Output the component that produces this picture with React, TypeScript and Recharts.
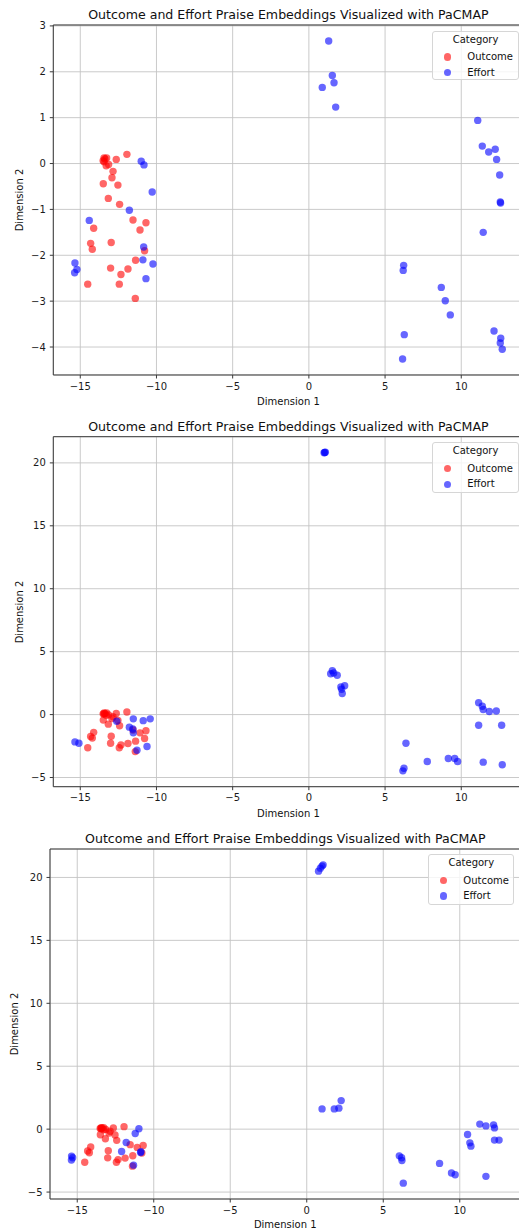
import React from 'react';
import { ScatterChart, Scatter, XAxis, YAxis, CartesianGrid, ReferenceLine } from 'recharts';

const FONT = '"DejaVu Sans", Verdana, sans-serif';

const chartTitle = 'Outcome and Effort Praise Embeddings Visualized with PaCMAP';
const xAxisLabel = 'Dimension 1';
const yAxisLabel = 'Dimension 2';
const legendTitle = 'Category';
const categories = ['Outcome', 'Effort'];
const categoryColors = ['#ff0000', '#0000ff'];

const xTicks = [-15, -10, -5, 0, 5, 10];
const yTicksSmall = [-4, -3, -2, -1, 0, 1, 2, 3];
const yTicksLarge = [-5, 0, 5, 10, 15, 20];

// Outcome praise (same in all three runs)
const outcomeX = [-13.44, -13.27, -13.5, -13.44, -13.3, -13.14, -13.38, -12.64, -11.94, -12.85, -12.92, -13.49, -12.53, -13.16, -12.42, -11.54, -10.69, -11.08, -14.12, -14.32, -14.21, -12.97, -10.78, -11.37, -13.01, -11.87, -12.33, -14.51, -12.44, -11.39];
const outcomeY = [0.12, 0.12, 0.06, 0.04, -0.05, -0.02, 0.1, 0.09, 0.2, -0.17, -0.31, -0.44, -0.47, -0.76, -0.89, -1.23, -1.29, -1.45, -1.41, -1.74, -1.87, -1.72, -1.9, -2.11, -2.28, -2.3, -2.42, -2.63, -2.63, -2.94];

// Effort praise, run 1
const effort1X = [-11.0, -10.82, -10.28, -11.78, -14.41, -10.84, -10.89, -10.23, -10.69, -15.35, -15.22, -15.37, 1.3, 1.54, 1.65, 0.88, 1.76, 11.08, 11.38, 11.8, 12.23, 12.32, 12.52, 12.56, 12.58, 11.44, 6.22, 6.19, 8.69, 8.95, 9.28, 12.15, 12.59, 12.56, 12.69, 6.26, 6.15];
const effort1Y = [0.05, -0.03, -0.62, -1.02, -1.24, -1.82, -2.1, -2.19, -2.51, -2.17, -2.31, -2.38, 2.67, 1.92, 1.76, 1.66, 1.23, 0.94, 0.38, 0.25, 0.31, 0.09, -0.25, -0.84, -0.86, -1.5, -2.22, -2.33, -2.7, -2.99, -3.3, -3.65, -3.81, -3.91, -4.05, -3.73, -4.26];

// Effort praise, run 2
const effort2X = [-15.35, -15.09, -12.61, -11.52, -10.87, -10.41, -11.78, -11.55, -11.52, -11.28, -10.62, 1.0, 1.04, 1.08, 1.54, 1.43, 1.63, 1.86, 2.35, 2.15, 2.19, 2.1, 11.14, 11.38, 11.44, 11.84, 12.3, 11.14, 12.65, 6.37, 7.77, 9.15, 9.57, 9.76, 11.44, 12.69, 6.24, 6.17];
const effort2Y = [-2.17, -2.28, -0.53, -0.34, -0.48, -0.34, -1.0, -1.15, -1.45, -2.83, -2.54, 20.8, 20.82, 20.84, 3.49, 3.25, 3.31, 3.12, 2.3, 2.01, 1.67, 2.2, 0.95, 0.66, 0.4, 0.24, 0.29, -0.85, -0.85, -2.28, -3.73, -3.49, -3.49, -3.73, -3.78, -3.99, -4.26, -4.47];

// Effort praise, run 3
const effort3X = [-15.37, -15.3, -15.38, -11.21, -10.97, -11.8, -12.1, -10.86, -10.84, -11.32, 0.77, 0.89, 1.0, 1.07, 1.0, 1.8, 2.1, 2.25, 11.31, 11.71, 12.21, 12.27, 10.51, 10.66, 10.73, 12.27, 12.57, 6.05, 6.2, 6.22, 8.68, 9.46, 9.7, 11.71, 6.31];
const effort3Y = [-2.14, -2.27, -2.46, -0.34, 0.03, -1.06, -1.77, -1.85, -1.8, -2.86, 20.5, 20.74, 20.9, 21.0, 1.61, 1.61, 1.67, 2.27, 0.4, 0.26, 0.34, 0.1, -0.42, -1.09, -1.35, -0.87, -0.87, -2.12, -2.27, -2.49, -2.72, -3.49, -3.62, -3.75, -4.29];

const zip = (xs: number[], ys: number[]) => xs.map((x, i) => ({ x, y: ys[i] }));
const outcomeData = zip(outcomeX, outcomeY);

const fmt = (v: number) => String(v).replace('-', '\u2212');

const makeDot = (color: string) => (props: any) => {
  if (props.cx == null || props.cy == null) return <g />;
  return <circle cx={props.cx} cy={props.cy} r={3.7} fill={color} fillOpacity={0.6} stroke="none" />;
};

type PanelProps = {
  top: number;
  height: number;
  plotLeft: number;
  plotTop: number;
  plotBottom: number;
  plotRight: number;
  xDomain: [number, number];
  yDomain: [number, number];
  yTicks: number[];
  effort: { x: number; y: number }[];
  titleY: number;
  xLabelY: number;
  yLabelX: number;
  legend: { left: number; top: number; width: number; height: number };
};

const tickStyle = { fontSize: 10, fill: '#1a1a1a', fontFamily: FONT };
const SPINE = '#3a3a3a';

function Panel(p: PanelProps) {
  const chartWidth = p.plotRight + 10;
  const xAxisHeight = 30;
  const plotCenterX = (p.plotLeft + p.plotRight) / 2;
  const plotCenterY = (p.plotTop + p.plotBottom) / 2;
  const seriesData = [outcomeData, p.effort];
  return (
    <div style={{ position: 'absolute', left: 0, top: p.top, width: 519, height: p.height, overflow: 'hidden' }}>
      <ScatterChart
        width={chartWidth}
        height={p.height}
        margin={{ top: p.plotTop, right: 10, left: 0, bottom: p.height - p.plotBottom - xAxisHeight }}
      >
        <CartesianGrid stroke="#c4c4c4" strokeWidth={0.9} />
        <XAxis
          type="number"
          dataKey="x"
          domain={p.xDomain}
          ticks={xTicks}
          allowDataOverflow
          height={xAxisHeight}
          tickFormatter={fmt}
          tick={tickStyle}
          tickSize={3.5}
          tickMargin={4}
          stroke={SPINE}
          axisLine={{ stroke: SPINE, strokeWidth: 1 }}
          tickLine={{ stroke: SPINE }}
        />
        <YAxis
          type="number"
          dataKey="y"
          domain={p.yDomain}
          ticks={p.yTicks}
          allowDataOverflow
          width={p.plotLeft}
          tickFormatter={fmt}
          tick={tickStyle}
          tickSize={3.5}
          tickMargin={4}
          stroke={SPINE}
          axisLine={{ stroke: SPINE, strokeWidth: 1 }}
          tickLine={{ stroke: SPINE }}
        />
        <ReferenceLine y={p.yDomain[1]} stroke={SPINE} strokeWidth={1} />
        <ReferenceLine x={p.xDomain[1]} stroke={SPINE} strokeWidth={1} />
        {categories.map((c, i) => (
          <Scatter
            key={c}
            name={c}
            data={seriesData[i]}
            fill={categoryColors[i]}
            shape={makeDot(categoryColors[i])}
            isAnimationActive={false}
          />
        ))}
      </ScatterChart>
      <div
        style={{
          position: 'absolute', left: p.plotLeft - 40, width: p.plotRight - p.plotLeft + 80, top: p.titleY - 7.5,
          textAlign: 'center', fontFamily: FONT, fontSize: 12.6, lineHeight: '15px', color: '#111', whiteSpace: 'nowrap',
        }}
      >
        {chartTitle}
      </div>
      <div
        style={{
          position: 'absolute', left: plotCenterX - 60, width: 120, top: p.xLabelY - 6,
          textAlign: 'center', fontFamily: FONT, fontSize: 10, lineHeight: '12px', color: '#111',
        }}
      >
        {xAxisLabel}
      </div>
      <div
        style={{
          position: 'absolute', left: p.yLabelX, top: plotCenterY, transform: 'translate(-50%, -50%) rotate(-90deg)',
          fontFamily: FONT, fontSize: 10, lineHeight: '12px', color: '#111', whiteSpace: 'nowrap',
        }}
      >
        {yAxisLabel}
      </div>
      <div
        style={{
          position: 'absolute', left: p.legend.left, top: p.legend.top, width: p.legend.width, height: p.legend.height,
          background: 'rgba(255,255,255,0.8)', border: '1px solid #d6d6d6', borderRadius: 3, boxSizing: 'border-box',
          fontFamily: FONT, fontSize: 10, color: '#111',
        }}
      >
        <div style={{ position: 'absolute', left: 0, right: 0, top: 2, textAlign: 'center', lineHeight: '12px' }}>{legendTitle}</div>
        {categories.map((c, i) => (
          <React.Fragment key={c}>
            <div
              style={{
                position: 'absolute', left: 14.4 - 3.7, top: 25.5 + i * 15.5 - 3.7, width: 7.4, height: 7.4,
                borderRadius: '50%', background: categoryColors[i], opacity: 0.6,
              }}
            />
            <div style={{ position: 'absolute', left: 34, top: 25.5 + i * 15.5 - 6, lineHeight: '12px', whiteSpace: 'nowrap' }}>{c}</div>
          </React.Fragment>
        ))}
      </div>
    </div>
  );
}

export default function App() {
  return (
    <div style={{ position: 'absolute', left: 0, top: 0, width: 519, height: 1230, overflow: 'hidden', background: '#fff' }}>
      <Panel
        top={0}
        height={410}
        plotLeft={53.3}
        plotTop={25}
        plotBottom={375}
        plotRight={523.6}
        xDomain={[-16.77, 14.09]}
        yDomain={[-4.61, 3.02]}
        yTicks={yTicksSmall}
        effort={zip(effort1X, effort1Y)}
        titleY={14.7}
        xLabelY={402.3}
        yLabelX={20}
        legend={{ left: 432.3, top: 30.7, width: 86.5, height: 49.5 }}
      />
      <Panel
        top={410}
        height={410}
        plotLeft={53.3}
        plotTop={26.7}
        plotBottom={376.7}
        plotRight={523.6}
        xDomain={[-16.77, 14.09]}
        yDomain={[-5.73, 22.08]}
        yTicks={yTicksLarge}
        effort={zip(effort2X, effort2Y)}
        titleY={16.3}
        xLabelY={404}
        yLabelX={20}
        legend={{ left: 432.3, top: 32.3, width: 86.5, height: 50.4 }}
      />
      <Panel
        top={820}
        height={410}
        plotLeft={50}
        plotTop={29}
        plotBottom={379}
        plotRight={520.5}
        xDomain={[-16.78, 13.97]}
        yDomain={[-5.55, 22.26]}
        yTicks={yTicksLarge}
        effort={zip(effort3X, effort3Y)}
        titleY={18.3}
        xLabelY={405}
        yLabelX={15}
        legend={{ left: 428.3, top: 34, width: 86, height: 51 }}
      />
    </div>
  );
}
